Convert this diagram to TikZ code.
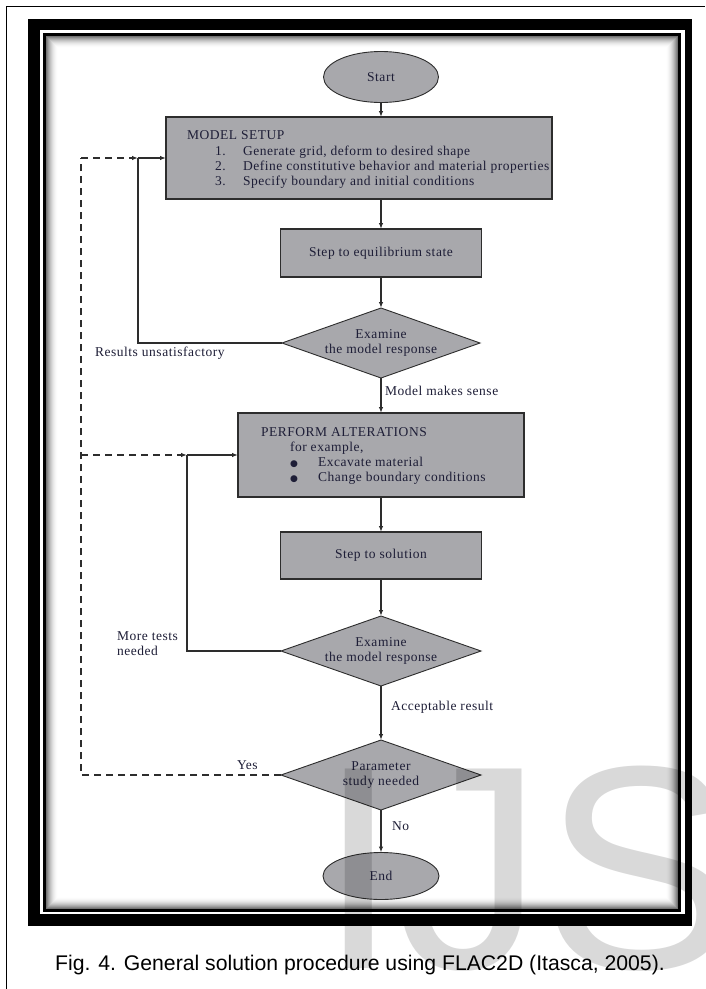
\documentclass[tikz,border=0pt]{standalone}
\usepackage{fontspec}
\setmainfont{Liberation Serif}
\newfontfamily\diafont{Liberation Serif}[LetterSpace=4]
\newfontfamily\capfont{Liberation Sans}
\newfontfamily\symfont{DejaVu Sans}
\usetikzlibrary{shapes.geometric,arrows.meta}
\definecolor{boxgray}{RGB}{168,168,172}
\definecolor{linecol}{RGB}{45,45,45}
\definecolor{txtcol}{RGB}{30,30,55}
\begin{document}
\begin{tikzpicture}[x=1pt,y=-1pt,
  every node/.style={inner sep=0pt, outer sep=0pt},
  dtext/.style={font=\diafont\fontsize{13.5}{15}\selectfont, text=txtcol},
  procbox/.style={draw=linecol, line width=1.3pt, fill=boxgray, rectangle},
  termnode/.style={draw=linecol, line width=0.9pt, fill=boxgray, ellipse},
  decnode/.style={draw=linecol, line width=0.9pt, fill=boxgray, diamond},
  flow/.style={draw=linecol, line width=1.2pt},
  arr/.style={flow, -{Latex[length=6pt,width=4.5pt]}},
  dashflow/.style={flow, dash pattern=on 7pt off 5pt},
  lbl/.style={dtext, anchor=base west},
]
\useasboundingbox (0,0) rectangle (705,989);
% frame
\draw[line width=1.5pt] (6.5,989) -- (6.5,6.5) -- (705,6.5);
\fill[black] (28,19) rectangle (692,926);
\fill[white] (40,30) rectangle (685,914);
\draw[line width=3pt] (44.5,34.5) rectangle (679.5,910.5);
\foreach \i in {0,...,11} {
  \pgfmathsetmacro\p{55*(1-\i/12)^2}
  \draw[black!\p, line width=1pt] (46.5+\i,36.5+\i) rectangle (677.5-\i,908.5-\i);
}
% nodes
\node[termnode, dtext, minimum width=115pt, minimum height=51pt] (start) at (381,77) {Start};
\node[procbox, minimum width=386pt, minimum height=82pt] (ms) at (359,158) {};
\node[lbl] (mst) at (187,139) {MODEL SETUP};
\node[lbl] (ms1n) at (215,155) {1.};
\node[lbl] (ms1) at (243,155) {Generate grid, deform to desired shape};
\node[lbl] (ms2n) at (215,170) {2.};
\node[lbl] (ms2) at (243,170) {Define constitutive behavior and material properties};
\node[lbl] (ms3n) at (215,185) {3.};
\node[lbl] (ms3) at (243,185) {Specify boundary and initial conditions};
\node[procbox, dtext, minimum width=201pt, minimum height=48pt] (eq) at (381,253) {Step to equilibrium state};
\node[decnode, minimum width=198pt, minimum height=70pt] (d1) at (381,343) {};
\node[dtext, align=center] (d1t) at (381,343) {Examine\\the model response};
\node[procbox, minimum width=286pt, minimum height=84pt] (pa) at (381,455) {};
\node[lbl] (pat) at (261,436) {PERFORM ALTERATIONS};
\node[lbl] (pa0) at (290,451) {for example,};
\node[anchor=base west, font=\symfont\fontsize{9}{9}\selectfont, text=txtcol] (pab1) at (290,466) {●};
\node[lbl] (pa1) at (318,466) {Excavate material};
\node[anchor=base west, font=\symfont\fontsize{9}{9}\selectfont, text=txtcol] (pab2) at (290,481) {●};
\node[lbl] (pa2) at (318,481) {Change boundary conditions};
\node[procbox, dtext, minimum width=201pt, minimum height=47pt] (ss) at (381,555.5) {Step to solution};
\node[decnode, minimum width=200pt, minimum height=70pt] (d2) at (381,651) {};
\node[dtext, align=center] (d2t) at (381,651) {Examine\\the model response};
\node[decnode, minimum width=200pt, minimum height=70pt] (d3) at (381,775) {};
\node[dtext, align=center] (d3t) at (381,775) {Parameter\\study needed};
\node[termnode, dtext, minimum width=116pt, minimum height=47pt] (end) at (381,876) {End};
% junctions
\coordinate (j1) at (138,158);
\coordinate (j2) at (187,455);
\coordinate (cT) at (81,158);
\coordinate (cM) at (81,455);
\coordinate (cB) at (81,775);
% connectors
\draw[arr] (start.south) -- (start.south |- ms.north);
\draw[arr] (eq.north |- ms.south) -- (eq.north);
\draw[arr] (eq.south) -- (d1.north);
\draw[flow] (d1.west) -| (j1);
\draw[arr] (j1) -- (ms.west);
\draw[arr] (d1.south) -- (pa.north);
\draw[arr] (pa.south) -- (ss.north);
\draw[arr] (ss.south) -- (d2.north);
\draw[flow] (d2.west) -| (j2);
\draw[arr] (j2) -- (pa.west);
\draw[arr] (d2.south) -- (d3.north);
\draw[arr] (d3.south) -- (end.north);
\draw[dashflow] (d3.west) -- (cB) -- (cT);
\draw[dashflow, -{Latex[length=6pt,width=4.5pt]}] (cT) -- (j1);
\draw[dashflow, -{Latex[length=6pt,width=4.5pt]}] (cM) -- (j2);
% labels
\node[lbl] (l1) at (95,356) {Results unsatisfactory};
\node[lbl] (l2) at (385,395) {Model makes sense};
\node[dtext, anchor=north west, align=left] (l3) at (117,632) {More tests\\needed};
\node[lbl] (l4) at (391,710) {Acceptable result};
\node[lbl] (l5) at (237,769) {Yes};
\node[lbl] (l6) at (392,830) {No};
% caption
\node[font=\capfont\fontsize{21.2}{24}\selectfont, anchor=base] (cap) at (360,970) {Fig. 4. General solution procedure using FLAC2D (Itasca, 2005).};
% watermark
\begin{scope}
\clip (0,0) rectangle (705,989);
\node[font=\capfont\fontsize{290}{290}\selectfont, text=black, opacity=0.15, anchor=base west] (wm) at (318,968) {IJS};
\end{scope}
\end{tikzpicture}
\end{document}
